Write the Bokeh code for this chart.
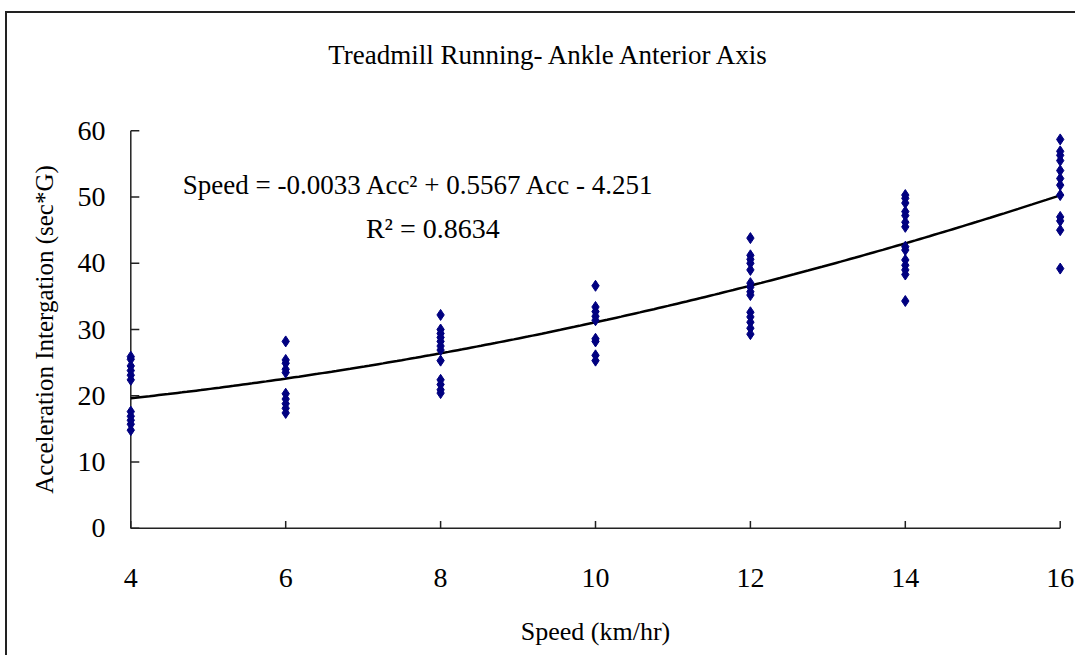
import numpy as np
from bokeh.plotting import figure
from bokeh.models import Range1d, FixedTicker, ColumnDataSource, LinearAxis
from bokeh.core.properties import value
from bokeh.embed import file_html
from bokeh.resources import INLINE

# ---- data ----
acc_4 = [25.9, 25.5, 24.5, 23.8, 23.1, 22.4, 17.6, 16.9, 16.3, 15.7, 14.8]
acc_6 = [28.2, 25.4, 24.9, 24.0, 23.5, 20.3, 19.5, 18.8, 18.1, 17.4]
acc_8 = [32.2, 30.0, 29.4, 28.8, 28.2, 27.5, 26.9, 25.3, 22.4, 21.7, 20.9, 20.4]
acc_10 = [36.6, 33.4, 32.7, 32.0, 31.4, 28.6, 28.2, 26.1, 25.3]
acc_12 = [43.8, 41.2, 40.6, 40.0, 39.0, 37.0, 36.4, 35.7, 35.2, 32.6, 31.9, 31.1, 30.2, 29.3]
acc_14 = [50.3, 49.8, 49.1, 47.8, 47.2, 46.2, 45.5, 42.5, 42.0, 40.5, 39.7, 39.0, 38.3, 34.3]
acc_16 = [58.7, 56.9, 56.3, 55.5, 54.0, 52.8, 51.8, 50.3, 47.0, 46.4, 45.0, 39.2]
speeds = [4, 6, 8, 10, 12, 14, 16]
trend_acc = [19.6, 22.6, 26.4, 31.2, 36.5, 43.0, 50.3]
y_ticks = [0, 10, 20, 30, 40, 50, 60]
x_ticks = [4, 6, 8, 10, 12, 14, 16]

title_text = "Treadmill Running- Ankle Anterior Axis"
eq_text = "Speed = -0.0033 Acc\u00b2 + 0.5567 Acc - 4.251"
r2_text = "R\u00b2 = 0.8634"

groups = [acc_4, acc_6, acc_8, acc_10, acc_12, acc_14, acc_16]
xs, ys = [], []
for s, g in zip(speeds, groups):
    xs += [s] * len(g)
    ys += g

FONT = "Liberation Serif"

p = figure(width=1070, height=644, output_backend="svg", toolbar_location=None,
           x_range=Range1d(3.88, 16.12), y_range=Range1d(-0.5, 60.5),
           min_border_left=114, min_border_top=114, min_border_right=8,
           min_border_bottom=126)
p.styles = {"border-top": "2px solid #222", "border-left": "2px solid #222",
            "margin-top": "11px", "margin-left": "5px"}
p.outline_line_color = None
p.grid.grid_line_color = None
p.background_fill_color = "white"
p.border_fill_color = "white"

for ax in (p.xaxis[0], p.yaxis[0]):
    ax.axis_line_color = None
    ax.major_tick_line_color = None
    ax.minor_tick_line_color = None
    ax.major_label_text_font = FONT
    ax.major_label_text_font_size = "28px"
    ax.major_label_text_color = "black"
    ax.axis_label_text_font = FONT
    ax.axis_label_text_font_style = "normal"
    ax.axis_label_text_color = "black"

p.xaxis.axis_label_text_font_size = "26px"
p.yaxis.axis_label_text_font_size = "25px"
p.xaxis.ticker = FixedTicker(ticks=x_ticks)
p.yaxis.ticker = FixedTicker(ticks=y_ticks)
p.xaxis.major_label_standoff = 31
p.yaxis.major_label_standoff = 10
p.xaxis.axis_label = "Speed (km/hr)"
p.yaxis.axis_label = "Acceleration Intergation (sec*G)"
p.xaxis.axis_label_standoff = 27
p.yaxis.axis_label_standoff = 17

# chart title, drawn as the single label of an invisible top axis
title_x = 9.41
top = LinearAxis(ticker=FixedTicker(ticks=[title_x]),
                 major_label_overrides={title_x: title_text},
                 axis_line_color=None, major_tick_line_color=None,
                 minor_tick_line_color=None, major_label_standoff=52,
                 major_label_text_font=FONT, major_label_text_font_size="27px",
                 major_label_text_color="black")
p.add_layout(top, "above")

# axis lines and inward ticks drawn in data space
x0, x1 = x_ticks[0], x_ticks[-1]
y0, y1 = y_ticks[0], y_ticks[-1]
p.segment(x0=[x0, x0], y0=[y0, y0], x1=[x1, x0], y1=[y0, y1], line_color="#222222", line_width=1.5)
p.segment(x0=x_ticks, y0=[y0] * len(x_ticks), x1=x_ticks, y1=[y0 + 1.1] * len(x_ticks),
          line_color="#222222", line_width=1.5)
p.segment(x0=[x0] * len(y_ticks), y0=y_ticks, x1=[x0 + 0.11] * len(y_ticks), y1=y_ticks,
          line_color="#222222", line_width=1.5)

# trend line (smooth quadratic through the read trend values)
coef = np.polyfit(speeds, trend_acc, 2)
tx = np.linspace(x0, x1, 200)
p.line(tx, np.polyval(coef, tx), line_color="black", line_width=2.5)

# scatter
src = ColumnDataSource(dict(x=xs, y=ys))
p.scatter("x", "y", source=src, marker="diamond", size=11,
          fill_color="#000080", line_color="#000080")

# equation text
p.text(x=[4.67], y=[51.8], text=[eq_text], text_font=value(FONT), text_font_size="27px",
       text_baseline="middle", text_align="left", text_color="black")
p.text(x=[7.9], y=[45.3], text=[r2_text], text_font=value(FONT), text_font_size="28px",
       text_baseline="middle", text_align="center", text_color="black")

open("out.html", "w").write(file_html(p, INLINE))
